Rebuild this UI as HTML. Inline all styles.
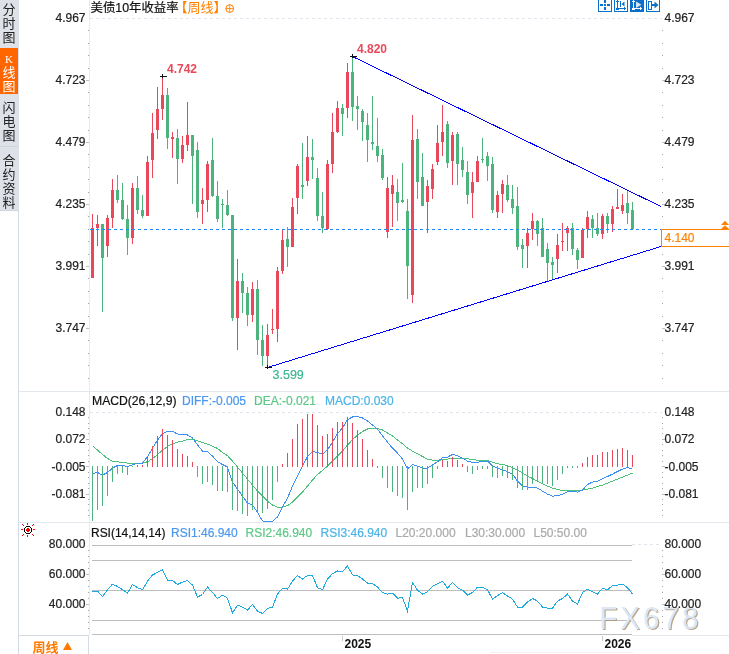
<!DOCTYPE html>
<html><head><meta charset="utf-8"><style>
html,body{margin:0;padding:0;background:#fff;width:729px;height:654px;overflow:hidden;position:relative}
</style></head><body>
<svg width="729" height="654" viewBox="0 0 729 654" style="position:absolute;left:0;top:0">
<g shape-rendering="crispEdges">
<!-- sidebar -->
<rect x="0" y="0" width="19" height="210" fill="#dfe1e8"/>
<rect x="0" y="210" width="19" height="1" fill="#cfd6df"/>
<rect x="0" y="48" width="18" height="46" fill="#ff6600"/>
<rect x="0" y="146" width="18" height="1" fill="#ccd4de"/>
<rect x="18" y="211" width="1" height="443" fill="#d3dae3"/>
<!-- separators -->
<rect x="19" y="391" width="710" height="1" fill="#e3e8ee"/>
<rect x="19" y="522" width="710" height="1" fill="#e3e8ee"/>
<!-- axis lines -->
<rect x="89" y="0" width="1" height="635" fill="#e6ebf1"/>
<rect x="19" y="635" width="70" height="1" fill="#d5dbe3"/>
<rect x="88" y="635" width="1" height="19" fill="#d5dbe3"/>
<rect x="92" y="634" width="540" height="1" fill="#bdbdbd"/>
<rect x="632" y="635" width="97" height="1" fill="#e3e8ee"/>
<rect x="490" y="652" width="143" height="1" fill="#eceff3"/>
<!-- dashed top lines -->
<line x1="90" y1="18.5" x2="662" y2="18.5" stroke="#dfe5ec" stroke-dasharray="3,3"/>
<line x1="90" y1="412.5" x2="662" y2="412.5" stroke="#dfe5ec" stroke-dasharray="3,3"/>
<line x1="632" y1="544.5" x2="662" y2="544.5" stroke="#dfe5ec" stroke-dasharray="3,3"/>
<rect x="88" y="30" width="1" height="1" fill="#9aa3b0"/><rect x="88" y="43" width="1" height="1" fill="#9aa3b0"/><rect x="88" y="55" width="1" height="1" fill="#9aa3b0"/><rect x="88" y="68" width="1" height="1" fill="#9aa3b0"/><rect x="88" y="80" width="1" height="1" fill="#9aa3b0"/><rect x="88" y="92" width="1" height="1" fill="#9aa3b0"/><rect x="88" y="105" width="1" height="1" fill="#9aa3b0"/><rect x="88" y="117" width="1" height="1" fill="#9aa3b0"/><rect x="88" y="130" width="1" height="1" fill="#9aa3b0"/><rect x="88" y="142" width="1" height="1" fill="#9aa3b0"/><rect x="88" y="154" width="1" height="1" fill="#9aa3b0"/><rect x="88" y="167" width="1" height="1" fill="#9aa3b0"/><rect x="88" y="179" width="1" height="1" fill="#9aa3b0"/><rect x="88" y="192" width="1" height="1" fill="#9aa3b0"/><rect x="88" y="204" width="1" height="1" fill="#9aa3b0"/><rect x="88" y="216" width="1" height="1" fill="#9aa3b0"/><rect x="88" y="229" width="1" height="1" fill="#9aa3b0"/><rect x="88" y="241" width="1" height="1" fill="#9aa3b0"/><rect x="88" y="254" width="1" height="1" fill="#9aa3b0"/><rect x="88" y="266" width="1" height="1" fill="#9aa3b0"/><rect x="88" y="278" width="1" height="1" fill="#9aa3b0"/><rect x="88" y="291" width="1" height="1" fill="#9aa3b0"/><rect x="88" y="303" width="1" height="1" fill="#9aa3b0"/><rect x="88" y="316" width="1" height="1" fill="#9aa3b0"/><rect x="88" y="328" width="1" height="1" fill="#9aa3b0"/><rect x="88" y="340" width="1" height="1" fill="#9aa3b0"/><rect x="88" y="353" width="1" height="1" fill="#9aa3b0"/><rect x="88" y="365" width="1" height="1" fill="#9aa3b0"/><rect x="88" y="378" width="1" height="1" fill="#9aa3b0"/><rect x="86" y="80" width="3" height="1" fill="#b8c0cc"/><rect x="86" y="142" width="3" height="1" fill="#b8c0cc"/><rect x="86" y="204" width="3" height="1" fill="#b8c0cc"/><rect x="86" y="266" width="3" height="1" fill="#b8c0cc"/><rect x="86" y="328" width="3" height="1" fill="#b8c0cc"/><rect x="662" y="30" width="1" height="1" fill="#9aa3b0"/><rect x="662" y="43" width="1" height="1" fill="#9aa3b0"/><rect x="662" y="55" width="1" height="1" fill="#9aa3b0"/><rect x="662" y="68" width="1" height="1" fill="#9aa3b0"/><rect x="662" y="80" width="1" height="1" fill="#9aa3b0"/><rect x="662" y="92" width="1" height="1" fill="#9aa3b0"/><rect x="662" y="105" width="1" height="1" fill="#9aa3b0"/><rect x="662" y="117" width="1" height="1" fill="#9aa3b0"/><rect x="662" y="130" width="1" height="1" fill="#9aa3b0"/><rect x="662" y="142" width="1" height="1" fill="#9aa3b0"/><rect x="662" y="154" width="1" height="1" fill="#9aa3b0"/><rect x="662" y="167" width="1" height="1" fill="#9aa3b0"/><rect x="662" y="179" width="1" height="1" fill="#9aa3b0"/><rect x="662" y="192" width="1" height="1" fill="#9aa3b0"/><rect x="662" y="204" width="1" height="1" fill="#9aa3b0"/><rect x="662" y="216" width="1" height="1" fill="#9aa3b0"/><rect x="662" y="229" width="1" height="1" fill="#9aa3b0"/><rect x="662" y="241" width="1" height="1" fill="#9aa3b0"/><rect x="662" y="254" width="1" height="1" fill="#9aa3b0"/><rect x="662" y="266" width="1" height="1" fill="#9aa3b0"/><rect x="662" y="278" width="1" height="1" fill="#9aa3b0"/><rect x="662" y="291" width="1" height="1" fill="#9aa3b0"/><rect x="662" y="303" width="1" height="1" fill="#9aa3b0"/><rect x="662" y="316" width="1" height="1" fill="#9aa3b0"/><rect x="662" y="328" width="1" height="1" fill="#9aa3b0"/><rect x="662" y="340" width="1" height="1" fill="#9aa3b0"/><rect x="662" y="353" width="1" height="1" fill="#9aa3b0"/><rect x="662" y="365" width="1" height="1" fill="#9aa3b0"/><rect x="662" y="378" width="1" height="1" fill="#9aa3b0"/><rect x="662" y="80" width="3" height="1" fill="#b8c0cc"/><rect x="662" y="142" width="3" height="1" fill="#b8c0cc"/><rect x="662" y="204" width="3" height="1" fill="#b8c0cc"/><rect x="662" y="266" width="3" height="1" fill="#b8c0cc"/><rect x="662" y="328" width="3" height="1" fill="#b8c0cc"/><rect x="88" y="417" width="1" height="1" fill="#9aa3b0"/><rect x="88" y="423" width="1" height="1" fill="#9aa3b0"/><rect x="88" y="428" width="1" height="1" fill="#9aa3b0"/><rect x="88" y="433" width="1" height="1" fill="#9aa3b0"/><rect x="88" y="439" width="1" height="1" fill="#9aa3b0"/><rect x="88" y="444" width="1" height="1" fill="#9aa3b0"/><rect x="88" y="450" width="1" height="1" fill="#9aa3b0"/><rect x="88" y="455" width="1" height="1" fill="#9aa3b0"/><rect x="88" y="461" width="1" height="1" fill="#9aa3b0"/><rect x="88" y="466" width="1" height="1" fill="#9aa3b0"/><rect x="88" y="472" width="1" height="1" fill="#9aa3b0"/><rect x="88" y="477" width="1" height="1" fill="#9aa3b0"/><rect x="88" y="483" width="1" height="1" fill="#9aa3b0"/><rect x="88" y="488" width="1" height="1" fill="#9aa3b0"/><rect x="88" y="494" width="1" height="1" fill="#9aa3b0"/><rect x="88" y="499" width="1" height="1" fill="#9aa3b0"/><rect x="88" y="504" width="1" height="1" fill="#9aa3b0"/><rect x="88" y="510" width="1" height="1" fill="#9aa3b0"/><rect x="88" y="515" width="1" height="1" fill="#9aa3b0"/><rect x="86" y="439" width="3" height="1" fill="#b8c0cc"/><rect x="86" y="466" width="3" height="1" fill="#b8c0cc"/><rect x="86" y="494" width="3" height="1" fill="#b8c0cc"/><rect x="662" y="417" width="1" height="1" fill="#9aa3b0"/><rect x="662" y="423" width="1" height="1" fill="#9aa3b0"/><rect x="662" y="428" width="1" height="1" fill="#9aa3b0"/><rect x="662" y="433" width="1" height="1" fill="#9aa3b0"/><rect x="662" y="439" width="1" height="1" fill="#9aa3b0"/><rect x="662" y="444" width="1" height="1" fill="#9aa3b0"/><rect x="662" y="450" width="1" height="1" fill="#9aa3b0"/><rect x="662" y="455" width="1" height="1" fill="#9aa3b0"/><rect x="662" y="461" width="1" height="1" fill="#9aa3b0"/><rect x="662" y="466" width="1" height="1" fill="#9aa3b0"/><rect x="662" y="472" width="1" height="1" fill="#9aa3b0"/><rect x="662" y="477" width="1" height="1" fill="#9aa3b0"/><rect x="662" y="483" width="1" height="1" fill="#9aa3b0"/><rect x="662" y="488" width="1" height="1" fill="#9aa3b0"/><rect x="662" y="494" width="1" height="1" fill="#9aa3b0"/><rect x="662" y="499" width="1" height="1" fill="#9aa3b0"/><rect x="662" y="504" width="1" height="1" fill="#9aa3b0"/><rect x="662" y="510" width="1" height="1" fill="#9aa3b0"/><rect x="662" y="515" width="1" height="1" fill="#9aa3b0"/><rect x="662" y="439" width="3" height="1" fill="#b8c0cc"/><rect x="662" y="466" width="3" height="1" fill="#b8c0cc"/><rect x="662" y="494" width="3" height="1" fill="#b8c0cc"/><rect x="88" y="550" width="1" height="1" fill="#9aa3b0"/><rect x="88" y="556" width="1" height="1" fill="#9aa3b0"/><rect x="88" y="562" width="1" height="1" fill="#9aa3b0"/><rect x="88" y="568" width="1" height="1" fill="#9aa3b0"/><rect x="88" y="574" width="1" height="1" fill="#9aa3b0"/><rect x="88" y="580" width="1" height="1" fill="#9aa3b0"/><rect x="88" y="586" width="1" height="1" fill="#9aa3b0"/><rect x="88" y="592" width="1" height="1" fill="#9aa3b0"/><rect x="88" y="598" width="1" height="1" fill="#9aa3b0"/><rect x="88" y="604" width="1" height="1" fill="#9aa3b0"/><rect x="88" y="610" width="1" height="1" fill="#9aa3b0"/><rect x="88" y="616" width="1" height="1" fill="#9aa3b0"/><rect x="88" y="622" width="1" height="1" fill="#9aa3b0"/><rect x="88" y="628" width="1" height="1" fill="#9aa3b0"/><rect x="86" y="574" width="3" height="1" fill="#b8c0cc"/><rect x="86" y="604" width="3" height="1" fill="#b8c0cc"/><rect x="662" y="550" width="1" height="1" fill="#9aa3b0"/><rect x="662" y="556" width="1" height="1" fill="#9aa3b0"/><rect x="662" y="562" width="1" height="1" fill="#9aa3b0"/><rect x="662" y="568" width="1" height="1" fill="#9aa3b0"/><rect x="662" y="574" width="1" height="1" fill="#9aa3b0"/><rect x="662" y="580" width="1" height="1" fill="#9aa3b0"/><rect x="662" y="586" width="1" height="1" fill="#9aa3b0"/><rect x="662" y="592" width="1" height="1" fill="#9aa3b0"/><rect x="662" y="598" width="1" height="1" fill="#9aa3b0"/><rect x="662" y="604" width="1" height="1" fill="#9aa3b0"/><rect x="662" y="610" width="1" height="1" fill="#9aa3b0"/><rect x="662" y="616" width="1" height="1" fill="#9aa3b0"/><rect x="662" y="622" width="1" height="1" fill="#9aa3b0"/><rect x="662" y="628" width="1" height="1" fill="#9aa3b0"/><rect x="662" y="574" width="3" height="1" fill="#b8c0cc"/><rect x="662" y="604" width="3" height="1" fill="#b8c0cc"/>
<!-- RSI level lines -->
<rect x="92" y="545" width="540" height="1" fill="#bebebe"/>
<rect x="92" y="560" width="540" height="1" fill="#bebebe"/>
<rect x="92" y="590" width="540" height="1" fill="#bebebe"/>
<rect x="92" y="620" width="540" height="1" fill="#bebebe"/>
<!-- x ticks -->
<rect x="342" y="636" width="1" height="5" fill="#c8c8c8"/>
<rect x="602" y="636" width="1" height="5" fill="#c8c8c8"/>
<rect x="92" y="214" width="1" height="64" fill="#e8485a"/><rect x="91" y="228" width="3" height="50" fill="#e8485a"/><rect x="97" y="215" width="1" height="31" fill="#e8485a"/><rect x="96" y="224" width="3" height="4" fill="#e8485a"/><rect x="102" y="224" width="1" height="88" fill="#4cb37c"/><rect x="101" y="224" width="3" height="34" fill="#4cb37c"/><rect x="107" y="215" width="1" height="42" fill="#e8485a"/><rect x="106" y="218" width="3" height="28" fill="#e8485a"/><rect x="112" y="179" width="1" height="49" fill="#e8485a"/><rect x="111" y="190" width="3" height="28" fill="#e8485a"/><rect x="117" y="175" width="1" height="28" fill="#4cb37c"/><rect x="116" y="190" width="3" height="10" fill="#4cb37c"/><rect x="122" y="183" width="1" height="37" fill="#4cb37c"/><rect x="121" y="200" width="3" height="19" fill="#4cb37c"/><rect x="127" y="205" width="1" height="50" fill="#4cb37c"/><rect x="126" y="219" width="3" height="19" fill="#4cb37c"/><rect x="132" y="183" width="1" height="61" fill="#e8485a"/><rect x="131" y="188" width="3" height="50" fill="#e8485a"/><rect x="137" y="176" width="1" height="38" fill="#4cb37c"/><rect x="136" y="188" width="3" height="22" fill="#4cb37c"/><rect x="142" y="195" width="1" height="23" fill="#4cb37c"/><rect x="141" y="210" width="3" height="6" fill="#4cb37c"/><rect x="147" y="156" width="1" height="60" fill="#e8485a"/><rect x="146" y="162" width="3" height="54" fill="#e8485a"/><rect x="152" y="113" width="1" height="65" fill="#e8485a"/><rect x="151" y="133" width="3" height="27" fill="#e8485a"/><rect x="157" y="87" width="1" height="52" fill="#e8485a"/><rect x="156" y="109" width="3" height="21" fill="#e8485a"/><rect x="162" y="76" width="1" height="44" fill="#e8485a"/><rect x="161" y="95" width="3" height="14" fill="#e8485a"/><rect x="167" y="88" width="1" height="61" fill="#4cb37c"/><rect x="166" y="95" width="3" height="43" fill="#4cb37c"/><rect x="172" y="132" width="1" height="26" fill="#e8485a"/><rect x="171" y="137" width="3" height="2" fill="#e8485a"/><rect x="177" y="129" width="1" height="55" fill="#4cb37c"/><rect x="176" y="138" width="3" height="21" fill="#4cb37c"/><rect x="182" y="136" width="1" height="27" fill="#e8485a"/><rect x="181" y="145" width="3" height="14" fill="#e8485a"/><rect x="187" y="102" width="1" height="49" fill="#e8485a"/><rect x="186" y="135" width="3" height="10" fill="#e8485a"/><rect x="192" y="135" width="1" height="69" fill="#4cb37c"/><rect x="191" y="135" width="3" height="21" fill="#4cb37c"/><rect x="197" y="142" width="1" height="76" fill="#4cb37c"/><rect x="196" y="150" width="3" height="62" fill="#4cb37c"/><rect x="202" y="188" width="1" height="36" fill="#e8485a"/><rect x="201" y="200" width="3" height="4" fill="#e8485a"/><rect x="207" y="161" width="1" height="51" fill="#e8485a"/><rect x="206" y="164" width="3" height="36" fill="#e8485a"/><rect x="212" y="138" width="1" height="59" fill="#4cb37c"/><rect x="211" y="160" width="3" height="36" fill="#4cb37c"/><rect x="217" y="181" width="1" height="41" fill="#4cb37c"/><rect x="216" y="196" width="3" height="23" fill="#4cb37c"/><rect x="222" y="199" width="1" height="29" fill="#4cb37c"/><rect x="221" y="204" width="3" height="1" fill="#4cb37c"/><rect x="227" y="190" width="1" height="26" fill="#4cb37c"/><rect x="226" y="205" width="3" height="10" fill="#4cb37c"/><rect x="232" y="215" width="1" height="106" fill="#4cb37c"/><rect x="231" y="215" width="3" height="103" fill="#4cb37c"/><rect x="237" y="259" width="1" height="91" fill="#e8485a"/><rect x="236" y="281" width="3" height="37" fill="#e8485a"/><rect x="242" y="273" width="1" height="40" fill="#4cb37c"/><rect x="241" y="281" width="3" height="12" fill="#4cb37c"/><rect x="247" y="287" width="1" height="39" fill="#4cb37c"/><rect x="246" y="293" width="3" height="22" fill="#4cb37c"/><rect x="252" y="282" width="1" height="40" fill="#e8485a"/><rect x="251" y="289" width="3" height="26" fill="#e8485a"/><rect x="257" y="280" width="1" height="75" fill="#4cb37c"/><rect x="256" y="289" width="3" height="51" fill="#4cb37c"/><rect x="262" y="325" width="1" height="41" fill="#4cb37c"/><rect x="261" y="340" width="3" height="16" fill="#4cb37c"/><rect x="267" y="324" width="1" height="43" fill="#e8485a"/><rect x="266" y="335" width="3" height="21" fill="#e8485a"/><rect x="272" y="309" width="1" height="25" fill="#e8485a"/><rect x="271" y="329" width="3" height="1" fill="#e8485a"/><rect x="277" y="267" width="1" height="75" fill="#e8485a"/><rect x="276" y="271" width="3" height="58" fill="#e8485a"/><rect x="282" y="229" width="1" height="45" fill="#e8485a"/><rect x="281" y="240" width="3" height="31" fill="#e8485a"/><rect x="287" y="227" width="1" height="40" fill="#4cb37c"/><rect x="286" y="239" width="3" height="8" fill="#4cb37c"/><rect x="292" y="198" width="1" height="49" fill="#e8485a"/><rect x="291" y="207" width="3" height="40" fill="#e8485a"/><rect x="297" y="164" width="1" height="50" fill="#e8485a"/><rect x="296" y="166" width="3" height="32" fill="#e8485a"/><rect x="302" y="143" width="1" height="56" fill="#4cb37c"/><rect x="301" y="185" width="3" height="2" fill="#4cb37c"/><rect x="307" y="136" width="1" height="50" fill="#e8485a"/><rect x="306" y="157" width="3" height="24" fill="#e8485a"/><rect x="312" y="139" width="1" height="40" fill="#4cb37c"/><rect x="311" y="157" width="3" height="3" fill="#4cb37c"/><rect x="317" y="168" width="1" height="53" fill="#4cb37c"/><rect x="316" y="178" width="3" height="38" fill="#4cb37c"/><rect x="322" y="192" width="1" height="41" fill="#4cb37c"/><rect x="321" y="216" width="3" height="12" fill="#4cb37c"/><rect x="327" y="160" width="1" height="70" fill="#e8485a"/><rect x="326" y="164" width="3" height="65" fill="#e8485a"/><rect x="332" y="113" width="1" height="60" fill="#e8485a"/><rect x="331" y="132" width="3" height="32" fill="#e8485a"/><rect x="337" y="101" width="1" height="32" fill="#e8485a"/><rect x="336" y="108" width="3" height="24" fill="#e8485a"/><rect x="342" y="104" width="1" height="32" fill="#4cb37c"/><rect x="341" y="108" width="3" height="6" fill="#4cb37c"/><rect x="347" y="63" width="1" height="55" fill="#e8485a"/><rect x="346" y="72" width="3" height="36" fill="#e8485a"/><rect x="352" y="56" width="1" height="65" fill="#4cb37c"/><rect x="351" y="72" width="3" height="35" fill="#4cb37c"/><rect x="357" y="96" width="1" height="34" fill="#4cb37c"/><rect x="356" y="106" width="3" height="3" fill="#4cb37c"/><rect x="362" y="109" width="1" height="32" fill="#4cb37c"/><rect x="361" y="111" width="3" height="11" fill="#4cb37c"/><rect x="367" y="113" width="1" height="49" fill="#4cb37c"/><rect x="366" y="125" width="3" height="15" fill="#4cb37c"/><rect x="372" y="96" width="1" height="54" fill="#4cb37c"/><rect x="371" y="142" width="3" height="2" fill="#4cb37c"/><rect x="377" y="118" width="1" height="44" fill="#4cb37c"/><rect x="376" y="146" width="3" height="10" fill="#4cb37c"/><rect x="382" y="149" width="1" height="31" fill="#4cb37c"/><rect x="381" y="155" width="3" height="23" fill="#4cb37c"/><rect x="387" y="177" width="1" height="61" fill="#e8485a"/><rect x="386" y="188" width="3" height="44" fill="#e8485a"/><rect x="392" y="175" width="1" height="52" fill="#e8485a"/><rect x="391" y="185" width="3" height="9" fill="#e8485a"/><rect x="397" y="179" width="1" height="42" fill="#4cb37c"/><rect x="396" y="192" width="3" height="11" fill="#4cb37c"/><rect x="402" y="163" width="1" height="40" fill="#4cb37c"/><rect x="401" y="200" width="3" height="2" fill="#4cb37c"/><rect x="407" y="199" width="1" height="100" fill="#4cb37c"/><rect x="406" y="211" width="3" height="55" fill="#4cb37c"/><rect x="412" y="115" width="1" height="188" fill="#e8485a"/><rect x="411" y="140" width="3" height="155" fill="#e8485a"/><rect x="417" y="129" width="1" height="70" fill="#4cb37c"/><rect x="416" y="139" width="3" height="43" fill="#4cb37c"/><rect x="422" y="153" width="1" height="53" fill="#4cb37c"/><rect x="421" y="177" width="3" height="29" fill="#4cb37c"/><rect x="427" y="180" width="1" height="53" fill="#e8485a"/><rect x="426" y="186" width="3" height="16" fill="#e8485a"/><rect x="432" y="164" width="1" height="35" fill="#e8485a"/><rect x="431" y="169" width="3" height="20" fill="#e8485a"/><rect x="437" y="125" width="1" height="40" fill="#e8485a"/><rect x="436" y="143" width="3" height="19" fill="#e8485a"/><rect x="442" y="105" width="1" height="51" fill="#e8485a"/><rect x="441" y="132" width="3" height="10" fill="#e8485a"/><rect x="447" y="121" width="1" height="47" fill="#4cb37c"/><rect x="446" y="124" width="3" height="39" fill="#4cb37c"/><rect x="452" y="132" width="1" height="53" fill="#e8485a"/><rect x="451" y="135" width="3" height="26" fill="#e8485a"/><rect x="457" y="132" width="1" height="53" fill="#4cb37c"/><rect x="456" y="134" width="3" height="30" fill="#4cb37c"/><rect x="462" y="147" width="1" height="30" fill="#4cb37c"/><rect x="461" y="160" width="3" height="10" fill="#4cb37c"/><rect x="467" y="161" width="1" height="43" fill="#4cb37c"/><rect x="466" y="172" width="3" height="23" fill="#4cb37c"/><rect x="472" y="172" width="1" height="46" fill="#e8485a"/><rect x="471" y="182" width="3" height="11" fill="#e8485a"/><rect x="477" y="156" width="1" height="26" fill="#e8485a"/><rect x="476" y="161" width="3" height="21" fill="#e8485a"/><rect x="482" y="138" width="1" height="25" fill="#4cb37c"/><rect x="481" y="159" width="3" height="1" fill="#4cb37c"/><rect x="487" y="152" width="1" height="29" fill="#4cb37c"/><rect x="486" y="156" width="3" height="10" fill="#4cb37c"/><rect x="492" y="157" width="1" height="56" fill="#4cb37c"/><rect x="491" y="164" width="3" height="46" fill="#4cb37c"/><rect x="497" y="191" width="1" height="27" fill="#e8485a"/><rect x="496" y="195" width="3" height="17" fill="#e8485a"/><rect x="502" y="180" width="1" height="33" fill="#e8485a"/><rect x="501" y="184" width="3" height="10" fill="#e8485a"/><rect x="507" y="175" width="1" height="27" fill="#4cb37c"/><rect x="506" y="185" width="3" height="15" fill="#4cb37c"/><rect x="512" y="185" width="1" height="29" fill="#4cb37c"/><rect x="511" y="199" width="3" height="9" fill="#4cb37c"/><rect x="517" y="187" width="1" height="63" fill="#4cb37c"/><rect x="516" y="206" width="3" height="41" fill="#4cb37c"/><rect x="522" y="239" width="1" height="29" fill="#4cb37c"/><rect x="521" y="245" width="3" height="4" fill="#4cb37c"/><rect x="527" y="228" width="1" height="40" fill="#e8485a"/><rect x="526" y="233" width="3" height="13" fill="#e8485a"/><rect x="532" y="213" width="1" height="27" fill="#e8485a"/><rect x="531" y="221" width="3" height="8" fill="#e8485a"/><rect x="537" y="220" width="1" height="26" fill="#4cb37c"/><rect x="536" y="221" width="3" height="13" fill="#4cb37c"/><rect x="542" y="218" width="1" height="39" fill="#4cb37c"/><rect x="541" y="228" width="3" height="29" fill="#4cb37c"/><rect x="547" y="243" width="1" height="38" fill="#4cb37c"/><rect x="546" y="249" width="3" height="14" fill="#4cb37c"/><rect x="552" y="257" width="1" height="23" fill="#4cb37c"/><rect x="551" y="262" width="3" height="3" fill="#4cb37c"/><rect x="557" y="234" width="1" height="39" fill="#e8485a"/><rect x="556" y="245" width="3" height="14" fill="#e8485a"/><rect x="562" y="223" width="1" height="28" fill="#e8485a"/><rect x="561" y="241" width="3" height="1" fill="#e8485a"/><rect x="567" y="226" width="1" height="25" fill="#e8485a"/><rect x="566" y="228" width="3" height="5" fill="#e8485a"/><rect x="572" y="223" width="1" height="32" fill="#4cb37c"/><rect x="571" y="228" width="3" height="21" fill="#4cb37c"/><rect x="577" y="248" width="1" height="21" fill="#4cb37c"/><rect x="576" y="250" width="3" height="10" fill="#4cb37c"/><rect x="582" y="228" width="1" height="30" fill="#e8485a"/><rect x="581" y="230" width="3" height="28" fill="#e8485a"/><rect x="587" y="211" width="1" height="27" fill="#e8485a"/><rect x="586" y="217" width="3" height="12" fill="#e8485a"/><rect x="592" y="215" width="1" height="23" fill="#4cb37c"/><rect x="591" y="219" width="3" height="9" fill="#4cb37c"/><rect x="597" y="213" width="1" height="23" fill="#4cb37c"/><rect x="596" y="228" width="3" height="6" fill="#4cb37c"/><rect x="602" y="214" width="1" height="25" fill="#e8485a"/><rect x="601" y="216" width="3" height="18" fill="#e8485a"/><rect x="607" y="213" width="1" height="20" fill="#4cb37c"/><rect x="606" y="216" width="3" height="8" fill="#4cb37c"/><rect x="612" y="206" width="1" height="26" fill="#e8485a"/><rect x="611" y="209" width="3" height="15" fill="#e8485a"/><rect x="617" y="189" width="1" height="20" fill="#e8485a"/><rect x="616" y="207" width="3" height="2" fill="#e8485a"/><rect x="622" y="194" width="1" height="20" fill="#e8485a"/><rect x="621" y="205" width="3" height="6" fill="#e8485a"/><rect x="627" y="190" width="1" height="34" fill="#4cb37c"/><rect x="626" y="203" width="3" height="10" fill="#4cb37c"/><rect x="632" y="202" width="1" height="27" fill="#4cb37c"/><rect x="631" y="210" width="3" height="19" fill="#4cb37c"/>
</g>
<!-- current price dashed -->
<line x1="90" y1="229.5" x2="661" y2="229.5" stroke="#1a8cff" stroke-dasharray="3,3" stroke-width="1.2"/>
<!-- trend lines -->
<line x1="352.5" y1="56.5" x2="661" y2="206.5" stroke="#0000ff" stroke-width="1" shape-rendering="crispEdges"/>
<line x1="267.5" y1="367.5" x2="661" y2="246.5" stroke="#0000ff" stroke-width="1" shape-rendering="crispEdges"/>
<!-- markers -->
<g shape-rendering="crispEdges" fill="#111">
<rect x="160" y="76" width="7" height="1"/><rect x="162" y="74" width="1" height="4"/>
<rect x="350" y="56" width="7" height="1"/><rect x="352" y="54" width="1" height="4"/>
<rect x="265" y="367" width="7" height="1"/><rect x="267" y="365" width="1" height="4"/>
</g>
<!-- MACD lines -->
<svg x="90" y="392" width="572" height="130" viewBox="90 392 572 130" overflow="hidden">
<polyline points="92.5,445.7 97.5,450.1 102.5,454.5 107.5,458.5 112.5,461.1 117.5,461.7 122.5,462.5 127.5,463.1 132.5,463.3 137.5,463.3 142.5,463.3 147.5,461.7 152.5,458.7 157.5,454.5 162.5,450.1 167.5,446.5 172.5,443.7 177.5,442.1 182.5,441.1 187.5,439.7 192.5,439.5 197.5,440.7 202.5,442.7 207.5,444.1 212.5,446.1 217.5,448.5 222.5,452.5 227.5,455.7 232.5,461.1 237.5,467.1 242.5,473.1 247.5,479.1 252.5,485.1 257.5,491.1 262.5,496.1 267.5,501.1 272.5,505.1 277.5,507.1 282.5,507.1 287.5,505.7 292.5,502.1 297.5,497.1 302.5,492.1 307.5,486.1 312.5,480.1 317.5,474.5 322.5,470.5 327.5,466.1 332.5,461.1 337.5,456.1 342.5,451.1 347.5,445.1 352.5,439.7 357.5,435.0 362.5,431.6 367.5,429.0 372.5,428.4 377.5,428.4 382.5,430.0 387.5,433.0 392.5,436.0 397.5,440.1 402.5,443.7 407.5,448.1 412.5,451.1 417.5,453.7 422.5,456.5 427.5,459.1 432.5,460.1 437.5,460.5 442.5,459.7 447.5,459.1 452.5,458.1 457.5,458.1 462.5,458.1 467.5,458.7 472.5,459.7 477.5,460.1 482.5,460.5 487.5,460.5 492.5,462.1 497.5,463.7 502.5,464.5 507.5,465.7 512.5,467.7 517.5,470.1 522.5,473.1 527.5,476.1 532.5,478.5 537.5,481.1 542.5,483.7 547.5,486.1 552.5,488.1 557.5,489.5 562.5,490.5 567.5,490.5 572.5,490.5 577.5,490.5 582.5,490.1 587.5,489.1 592.5,488.1 597.5,486.5 602.5,485.1 607.5,483.1 612.5,481.1 617.5,479.1 622.5,477.1 627.5,475.1 632.5,473.1" fill="none" stroke="#4cc17e" stroke-width="1.0" shape-rendering="crispEdges"/>
<polyline points="92.5,473.7 97.5,472.5 102.5,475.1 107.5,472.5 112.5,468.1 117.5,465.5 122.5,465.5 127.5,466.7 132.5,464.7 137.5,463.5 142.5,463.3 147.5,456.7 152.5,448.1 157.5,440.1 162.5,433.6 167.5,431.4 172.5,431.4 177.5,434.0 182.5,434.4 187.5,435.0 192.5,438.0 197.5,445.0 202.5,451.1 207.5,451.7 212.5,456.1 217.5,461.7 222.5,464.5 227.5,467.1 232.5,482.1 237.5,489.1 242.5,496.1 247.5,503.1 252.5,505.1 257.5,512.2 262.5,521.0 267.5,521.2 272.5,521.2 277.5,517.0 282.5,507.0 287.5,498.1 292.5,486.1 297.5,476.1 302.5,466.1 307.5,456.7 312.5,451.5 317.5,452.5 322.5,454.1 327.5,449.7 332.5,442.1 337.5,433.6 342.5,428.0 347.5,419.6 352.5,417.0 357.5,416.4 362.5,418.0 367.5,421.0 372.5,425.0 377.5,429.0 382.5,436.0 387.5,442.1 392.5,448.1 397.5,453.1 402.5,459.1 407.5,469.1 412.5,464.5 417.5,466.1 422.5,468.1 427.5,468.1 432.5,465.1 437.5,461.7 442.5,457.7 447.5,457.1 452.5,454.5 457.5,455.7 462.5,458.1 467.5,461.1 472.5,462.5 477.5,462.5 482.5,461.1 487.5,461.1 492.5,466.1 497.5,468.1 502.5,469.7 507.5,471.7 512.5,474.1 517.5,481.1 522.5,486.1 527.5,487.1 532.5,487.1 537.5,488.1 542.5,491.1 547.5,494.1 552.5,496.1 557.5,495.7 562.5,494.1 567.5,491.7 572.5,491.1 577.5,492.1 582.5,490.1 587.5,484.5 592.5,482.1 597.5,481.1 602.5,478.7 607.5,476.5 612.5,474.1 617.5,471.5 622.5,469.1 627.5,467.7 632.5,468.5" fill="none" stroke="#3d8ff0" stroke-width="1.0" shape-rendering="crispEdges"/>
</svg>
<g shape-rendering="crispEdges"><rect x="92" y="466" width="1" height="55" fill="#4cb37c"/><rect x="97" y="466" width="1" height="44" fill="#4cb37c"/><rect x="102" y="466" width="1" height="40" fill="#4cb37c"/><rect x="107" y="466" width="1" height="30" fill="#4cb37c"/><rect x="112" y="466" width="1" height="16" fill="#4cb37c"/><rect x="117" y="466" width="1" height="8" fill="#4cb37c"/><rect x="122" y="466" width="1" height="7" fill="#4cb37c"/><rect x="127" y="466" width="1" height="9" fill="#4cb37c"/><rect x="132" y="466" width="1" height="1" fill="#4cb37c"/><rect x="137" y="465" width="1" height="2" fill="#e8485a"/><rect x="142" y="465" width="1" height="2" fill="#e8485a"/><rect x="147" y="457" width="1" height="10" fill="#e8485a"/><rect x="152" y="446" width="1" height="21" fill="#e8485a"/><rect x="157" y="436" width="1" height="31" fill="#e8485a"/><rect x="162" y="429" width="1" height="38" fill="#e8485a"/><rect x="167" y="435" width="1" height="32" fill="#e8485a"/><rect x="172" y="440" width="1" height="27" fill="#e8485a"/><rect x="177" y="449" width="1" height="18" fill="#e8485a"/><rect x="182" y="454" width="1" height="13" fill="#e8485a"/><rect x="187" y="456" width="1" height="11" fill="#e8485a"/><rect x="192" y="462" width="1" height="5" fill="#e8485a"/><rect x="197" y="466" width="1" height="11" fill="#4cb37c"/><rect x="202" y="466" width="1" height="18" fill="#4cb37c"/><rect x="207" y="466" width="1" height="16" fill="#4cb37c"/><rect x="212" y="466" width="1" height="19" fill="#4cb37c"/><rect x="217" y="466" width="1" height="25" fill="#4cb37c"/><rect x="222" y="466" width="1" height="25" fill="#4cb37c"/><rect x="227" y="466" width="1" height="26" fill="#4cb37c"/><rect x="232" y="466" width="1" height="44" fill="#4cb37c"/><rect x="237" y="466" width="1" height="45" fill="#4cb37c"/><rect x="242" y="466" width="1" height="48" fill="#4cb37c"/><rect x="247" y="466" width="1" height="50" fill="#4cb37c"/><rect x="252" y="466" width="1" height="44" fill="#4cb37c"/><rect x="257" y="466" width="1" height="47" fill="#4cb37c"/><rect x="262" y="466" width="1" height="47" fill="#4cb37c"/><rect x="267" y="466" width="1" height="43" fill="#4cb37c"/><rect x="272" y="466" width="1" height="34" fill="#4cb37c"/><rect x="277" y="466" width="1" height="16" fill="#4cb37c"/><rect x="282" y="464" width="1" height="3" fill="#e8485a"/><rect x="287" y="453" width="1" height="14" fill="#e8485a"/><rect x="292" y="439" width="1" height="28" fill="#e8485a"/><rect x="297" y="424" width="1" height="43" fill="#e8485a"/><rect x="302" y="419" width="1" height="48" fill="#e8485a"/><rect x="307" y="414" width="1" height="53" fill="#e8485a"/><rect x="312" y="414" width="1" height="53" fill="#e8485a"/><rect x="317" y="425" width="1" height="42" fill="#e8485a"/><rect x="322" y="436" width="1" height="31" fill="#e8485a"/><rect x="327" y="434" width="1" height="33" fill="#e8485a"/><rect x="332" y="428" width="1" height="39" fill="#e8485a"/><rect x="337" y="422" width="1" height="45" fill="#e8485a"/><rect x="342" y="422" width="1" height="45" fill="#e8485a"/><rect x="347" y="417" width="1" height="50" fill="#e8485a"/><rect x="352" y="423" width="1" height="44" fill="#e8485a"/><rect x="357" y="430" width="1" height="37" fill="#e8485a"/><rect x="362" y="439" width="1" height="28" fill="#e8485a"/><rect x="367" y="450" width="1" height="17" fill="#e8485a"/><rect x="372" y="459" width="1" height="8" fill="#e8485a"/><rect x="377" y="466" width="1" height="2" fill="#4cb37c"/><rect x="382" y="466" width="1" height="12" fill="#4cb37c"/><rect x="387" y="466" width="1" height="22" fill="#4cb37c"/><rect x="392" y="466" width="1" height="26" fill="#4cb37c"/><rect x="397" y="466" width="1" height="30" fill="#4cb37c"/><rect x="402" y="466" width="1" height="32" fill="#4cb37c"/><rect x="407" y="466" width="1" height="44" fill="#4cb37c"/><rect x="412" y="466" width="1" height="26" fill="#4cb37c"/><rect x="417" y="466" width="1" height="22" fill="#4cb37c"/><rect x="422" y="466" width="1" height="22" fill="#4cb37c"/><rect x="427" y="466" width="1" height="18" fill="#4cb37c"/><rect x="432" y="466" width="1" height="12" fill="#4cb37c"/><rect x="437" y="466" width="1" height="3" fill="#4cb37c"/><rect x="442" y="460" width="1" height="7" fill="#e8485a"/><rect x="447" y="461" width="1" height="6" fill="#e8485a"/><rect x="452" y="457" width="1" height="10" fill="#e8485a"/><rect x="457" y="460" width="1" height="7" fill="#e8485a"/><rect x="462" y="464" width="1" height="3" fill="#e8485a"/><rect x="467" y="466" width="1" height="6" fill="#4cb37c"/><rect x="472" y="466" width="1" height="8" fill="#4cb37c"/><rect x="477" y="466" width="1" height="4" fill="#4cb37c"/><rect x="482" y="466" width="1" height="3" fill="#4cb37c"/><rect x="487" y="466" width="1" height="3" fill="#4cb37c"/><rect x="492" y="466" width="1" height="11" fill="#4cb37c"/><rect x="497" y="466" width="1" height="12" fill="#4cb37c"/><rect x="502" y="466" width="1" height="10" fill="#4cb37c"/><rect x="507" y="466" width="1" height="12" fill="#4cb37c"/><rect x="512" y="466" width="1" height="14" fill="#4cb37c"/><rect x="517" y="466" width="1" height="22" fill="#4cb37c"/><rect x="522" y="466" width="1" height="24" fill="#4cb37c"/><rect x="527" y="466" width="1" height="24" fill="#4cb37c"/><rect x="532" y="466" width="1" height="18" fill="#4cb37c"/><rect x="537" y="466" width="1" height="16" fill="#4cb37c"/><rect x="542" y="466" width="1" height="18" fill="#4cb37c"/><rect x="547" y="466" width="1" height="18" fill="#4cb37c"/><rect x="552" y="466" width="1" height="20" fill="#4cb37c"/><rect x="557" y="466" width="1" height="14" fill="#4cb37c"/><rect x="562" y="466" width="1" height="8" fill="#4cb37c"/><rect x="567" y="466" width="1" height="2" fill="#4cb37c"/><rect x="572" y="466" width="1" height="2" fill="#4cb37c"/><rect x="577" y="466" width="1" height="2" fill="#4cb37c"/><rect x="582" y="463" width="1" height="4" fill="#e8485a"/><rect x="587" y="457" width="1" height="10" fill="#e8485a"/><rect x="592" y="455" width="1" height="12" fill="#e8485a"/><rect x="597" y="455" width="1" height="12" fill="#e8485a"/><rect x="602" y="452" width="1" height="15" fill="#e8485a"/><rect x="607" y="452" width="1" height="15" fill="#e8485a"/><rect x="612" y="450" width="1" height="17" fill="#e8485a"/><rect x="617" y="449" width="1" height="18" fill="#e8485a"/><rect x="622" y="448" width="1" height="19" fill="#e8485a"/><rect x="627" y="450" width="1" height="17" fill="#e8485a"/><rect x="632" y="455" width="1" height="12" fill="#e8485a"/></g>
<polyline points="92.5,591.5 97.5,591.1 102.5,596.5 107.5,589.7 112.5,584.1 117.5,586.5 122.5,589.7 127.5,593.1 132.5,584.5 137.5,587.7 142.5,589.7 147.5,581.1 152.5,575.0 157.5,572.4 162.5,570.0 167.5,580.1 172.5,580.5 177.5,584.5 182.5,582.1 187.5,580.5 192.5,585.1 197.5,597.1 202.5,594.5 207.5,587.1 212.5,592.5 217.5,598.5 222.5,595.1 227.5,598.1 232.5,613.0 237.5,605.1 242.5,607.1 247.5,610.1 252.5,604.5 257.5,611.1 262.5,613.5 267.5,608.5 272.5,607.1 277.5,594.1 282.5,588.1 287.5,589.1 292.5,581.1 297.5,575.4 302.5,579.1 307.5,575.4 312.5,575.4 317.5,587.7 322.5,589.7 327.5,579.1 332.5,573.6 337.5,571.0 342.5,571.6 347.5,566.0 352.5,575.0 357.5,575.6 362.5,579.1 367.5,583.1 372.5,583.7 377.5,587.1 382.5,592.5 387.5,594.1 392.5,593.1 397.5,598.1 402.5,597.7 407.5,611.1 412.5,582.5 417.5,590.1 422.5,594.1 427.5,591.7 432.5,586.5 437.5,583.7 442.5,581.1 447.5,588.1 452.5,582.5 457.5,587.7 462.5,590.1 467.5,595.1 472.5,592.5 477.5,587.1 482.5,587.1 487.5,589.7 492.5,599.1 497.5,595.7 502.5,592.5 507.5,596.1 512.5,599.1 517.5,607.1 522.5,607.1 527.5,602.1 532.5,598.5 537.5,601.1 542.5,607.1 547.5,608.1 552.5,608.1 557.5,601.1 562.5,598.5 567.5,594.1 572.5,601.1 577.5,604.1 582.5,592.5 587.5,589.1 592.5,591.7 597.5,594.1 602.5,588.1 607.5,589.7 612.5,585.7 617.5,585.1 622.5,584.1 627.5,587.7 632.5,594.1" fill="none" stroke="#1eaae0" stroke-width="1.0" shape-rendering="crispEdges"/>
<!-- watermark -->
<g transform="translate(599.3,0) scale(0.95,1)">
<text x="1.2" y="630" font-size="31" fill="#b09878" text-anchor="start" font-weight="normal" font-family='"Liberation Sans", Arial, sans-serif' letter-spacing="3.25" opacity="0.85">FX678</text>
<text x="0" y="629" font-size="31" fill="#dce8f6" text-anchor="start" font-weight="normal" font-family='"Liberation Sans", Arial, sans-serif' letter-spacing="3.25">FX678</text>
</g>
<!-- price box -->
<rect x="661.5" y="229.5" width="70" height="17" fill="#fff" stroke="#ff8000" stroke-width="1"/>
<text x="664.5" y="242" font-size="12" fill="#ff8000" stroke="#ff8000" stroke-width="0.2" text-anchor="start" font-weight="normal" font-family='"Liberation Sans", Arial, sans-serif' >4.140</text>
<path d="M725 220.8 L729 225 L721 225 Z M725 225.3 L729.5 229.5 L720.5 229.5 Z" fill="#ff8000"/>
<text x="85.5" y="22" font-size="12" fill="#222" stroke="#222" stroke-width="0.2" text-anchor="end" font-weight="normal" font-family='"Liberation Sans", Arial, sans-serif' >4.967</text><text x="664.5" y="22" font-size="12" fill="#222" stroke="#222" stroke-width="0.2" text-anchor="start" font-weight="normal" font-family='"Liberation Sans", Arial, sans-serif' >4.967</text><text x="85.5" y="84" font-size="12" fill="#222" stroke="#222" stroke-width="0.2" text-anchor="end" font-weight="normal" font-family='"Liberation Sans", Arial, sans-serif' >4.723</text><text x="664.5" y="84" font-size="12" fill="#222" stroke="#222" stroke-width="0.2" text-anchor="start" font-weight="normal" font-family='"Liberation Sans", Arial, sans-serif' >4.723</text><text x="85.5" y="146" font-size="12" fill="#222" stroke="#222" stroke-width="0.2" text-anchor="end" font-weight="normal" font-family='"Liberation Sans", Arial, sans-serif' >4.479</text><text x="664.5" y="146" font-size="12" fill="#222" stroke="#222" stroke-width="0.2" text-anchor="start" font-weight="normal" font-family='"Liberation Sans", Arial, sans-serif' >4.479</text><text x="85.5" y="208" font-size="12" fill="#222" stroke="#222" stroke-width="0.2" text-anchor="end" font-weight="normal" font-family='"Liberation Sans", Arial, sans-serif' >4.235</text><text x="664.5" y="208" font-size="12" fill="#222" stroke="#222" stroke-width="0.2" text-anchor="start" font-weight="normal" font-family='"Liberation Sans", Arial, sans-serif' >4.235</text><text x="85.5" y="270" font-size="12" fill="#222" stroke="#222" stroke-width="0.2" text-anchor="end" font-weight="normal" font-family='"Liberation Sans", Arial, sans-serif' >3.991</text><text x="664.5" y="270" font-size="12" fill="#222" stroke="#222" stroke-width="0.2" text-anchor="start" font-weight="normal" font-family='"Liberation Sans", Arial, sans-serif' >3.991</text><text x="85.5" y="332" font-size="12" fill="#222" stroke="#222" stroke-width="0.2" text-anchor="end" font-weight="normal" font-family='"Liberation Sans", Arial, sans-serif' >3.747</text><text x="664.5" y="332" font-size="12" fill="#222" stroke="#222" stroke-width="0.2" text-anchor="start" font-weight="normal" font-family='"Liberation Sans", Arial, sans-serif' >3.747</text><text x="85.5" y="416" font-size="12" fill="#222" stroke="#222" stroke-width="0.2" text-anchor="end" font-weight="normal" font-family='"Liberation Sans", Arial, sans-serif' >0.148</text><text x="664.5" y="416" font-size="12" fill="#222" stroke="#222" stroke-width="0.2" text-anchor="start" font-weight="normal" font-family='"Liberation Sans", Arial, sans-serif' >0.148</text><text x="85.5" y="443" font-size="12" fill="#222" stroke="#222" stroke-width="0.2" text-anchor="end" font-weight="normal" font-family='"Liberation Sans", Arial, sans-serif' >0.072</text><text x="664.5" y="443" font-size="12" fill="#222" stroke="#222" stroke-width="0.2" text-anchor="start" font-weight="normal" font-family='"Liberation Sans", Arial, sans-serif' >0.072</text><text x="85.5" y="471" font-size="12" fill="#222" stroke="#222" stroke-width="0.2" text-anchor="end" font-weight="normal" font-family='"Liberation Sans", Arial, sans-serif' >-0.005</text><text x="664.5" y="471" font-size="12" fill="#222" stroke="#222" stroke-width="0.2" text-anchor="start" font-weight="normal" font-family='"Liberation Sans", Arial, sans-serif' >-0.005</text><text x="85.5" y="498" font-size="12" fill="#222" stroke="#222" stroke-width="0.2" text-anchor="end" font-weight="normal" font-family='"Liberation Sans", Arial, sans-serif' >-0.081</text><text x="664.5" y="498" font-size="12" fill="#222" stroke="#222" stroke-width="0.2" text-anchor="start" font-weight="normal" font-family='"Liberation Sans", Arial, sans-serif' >-0.081</text><text x="85.5" y="548" font-size="12" fill="#222" stroke="#222" stroke-width="0.2" text-anchor="end" font-weight="normal" font-family='"Liberation Sans", Arial, sans-serif' >80.000</text><text x="664.5" y="548" font-size="12" fill="#222" stroke="#222" stroke-width="0.2" text-anchor="start" font-weight="normal" font-family='"Liberation Sans", Arial, sans-serif' >80.000</text><text x="85.5" y="578" font-size="12" fill="#222" stroke="#222" stroke-width="0.2" text-anchor="end" font-weight="normal" font-family='"Liberation Sans", Arial, sans-serif' >60.000</text><text x="664.5" y="578" font-size="12" fill="#222" stroke="#222" stroke-width="0.2" text-anchor="start" font-weight="normal" font-family='"Liberation Sans", Arial, sans-serif' >60.000</text><text x="85.5" y="608" font-size="12" fill="#222" stroke="#222" stroke-width="0.2" text-anchor="end" font-weight="normal" font-family='"Liberation Sans", Arial, sans-serif' >40.000</text><text x="664.5" y="608" font-size="12" fill="#222" stroke="#222" stroke-width="0.2" text-anchor="start" font-weight="normal" font-family='"Liberation Sans", Arial, sans-serif' >40.000</text>
<!-- extreme labels -->
<text x="167" y="73" font-size="12" fill="#e8485a" text-anchor="start" font-weight="bold" font-family='"Liberation Sans", Arial, sans-serif' >4.742</text>
<text x="357" y="53" font-size="12" fill="#e8485a" text-anchor="start" font-weight="bold" font-family='"Liberation Sans", Arial, sans-serif' >4.820</text>
<text x="272.5" y="379" font-size="12.5" fill="#3fb592" stroke="#3fb592" stroke-width="0.2" text-anchor="start" font-weight="normal" font-family='"Liberation Sans", Arial, sans-serif' >3.599</text>
<!-- title -->
<text x="90.5" y="12" font-size="12.4" fill="#111" stroke="#111" stroke-width="0.2" text-anchor="start" font-weight="normal" font-family='"Liberation Sans", "Noto Sans CJK SC", sans-serif' >美债10年收益率</text>
<text x="174.5" y="11.5" font-size="13" fill="#ff8000" text-anchor="start" font-weight="normal" font-family='"Liberation Sans", "Noto Sans CJK SC", sans-serif' >【周线】</text>
<circle cx="229.7" cy="8.6" r="3.9" fill="none" stroke="#ff8000" stroke-width="1"/>
<path d="M225.8 8.6 H233.6 M229.7 4.7 V12.5" stroke="#ff8000" stroke-width="0.9"/>
<!-- panel titles -->
<text x="92" y="405" font-size="12" fill="#111" stroke="#111" stroke-width="0.2" text-anchor="start" font-weight="normal" font-family='"Liberation Sans", Arial, sans-serif' textLength="84.5" lengthAdjust="spacingAndGlyphs">MACD(26,12,9)</text>
<text x="182" y="405" font-size="12" fill="#4a98f0" stroke="#4a98f0" stroke-width="0.2" text-anchor="start" font-weight="normal" font-family='"Liberation Sans", Arial, sans-serif' >DIFF:-0.005</text>
<text x="254" y="405" font-size="12" fill="#5cc886" stroke="#5cc886" stroke-width="0.2" text-anchor="start" font-weight="normal" font-family='"Liberation Sans", Arial, sans-serif' >DEA:-0.021</text>
<text x="325" y="405" font-size="12" fill="#4ab4e8" stroke="#4ab4e8" stroke-width="0.2" text-anchor="start" font-weight="normal" font-family='"Liberation Sans", Arial, sans-serif' >MACD:0.030</text>
<text x="91" y="537" font-size="12" fill="#111" stroke="#111" stroke-width="0.2" text-anchor="start" font-weight="normal" font-family='"Liberation Sans", Arial, sans-serif' textLength="74.5" lengthAdjust="spacingAndGlyphs">RSI(14,14,14)</text>
<text x="171" y="537" font-size="12" fill="#4a98f0" stroke="#4a98f0" stroke-width="0.2" text-anchor="start" font-weight="normal" font-family='"Liberation Sans", Arial, sans-serif' >RSI1:46.940</text>
<text x="245.5" y="537" font-size="12" fill="#5cc886" stroke="#5cc886" stroke-width="0.2" text-anchor="start" font-weight="normal" font-family='"Liberation Sans", Arial, sans-serif' >RSI2:46.940</text>
<text x="320.5" y="537" font-size="12" fill="#4ab4e8" stroke="#4ab4e8" stroke-width="0.2" text-anchor="start" font-weight="normal" font-family='"Liberation Sans", Arial, sans-serif' >RSI3:46.940</text>
<text x="395.5" y="537" font-size="12" fill="#aaaaaa" stroke="#aaaaaa" stroke-width="0.2" text-anchor="start" font-weight="normal" font-family='"Liberation Sans", Arial, sans-serif' >L20:20.000</text>
<text x="465" y="537" font-size="12" fill="#aaaaaa" stroke="#aaaaaa" stroke-width="0.2" text-anchor="start" font-weight="normal" font-family='"Liberation Sans", Arial, sans-serif' >L30:30.000</text>
<text x="533.5" y="537" font-size="12" fill="#aaaaaa" stroke="#aaaaaa" stroke-width="0.2" text-anchor="start" font-weight="normal" font-family='"Liberation Sans", Arial, sans-serif' >L50:50.00</text>
<!-- x labels -->
<text x="344.5" y="648" font-size="12" fill="#111" text-anchor="start" font-weight="bold" font-family='"Liberation Sans", Arial, sans-serif' >2025</text>
<text x="604.5" y="648" font-size="12" fill="#111" text-anchor="start" font-weight="bold" font-family='"Liberation Sans", Arial, sans-serif' >2026</text>
<!-- bottom-left -->
<text x="32.5" y="651.5" font-size="13" fill="#ff7a00" text-anchor="start" font-weight="bold" font-family='"Liberation Sans", "Noto Sans CJK SC", sans-serif' >周线</text>
<path d="M67.5 642 L72 650 L63 650 Z" fill="#ff7a00"/>
<!-- sun icon -->
<g shape-rendering="crispEdges">
<g fill="#000">
<rect x="26" y="526" width="4" height="1"/><rect x="26" y="533" width="4" height="1"/>
<rect x="24" y="528" width="1" height="4"/><rect x="31" y="528" width="1" height="4"/>
<rect x="25" y="527" width="1" height="1"/><rect x="30" y="527" width="1" height="1"/>
<rect x="25" y="532" width="1" height="1"/><rect x="30" y="532" width="1" height="1"/>
</g>
<g fill="#f00">
<rect x="27" y="528" width="2" height="4"/><rect x="26" y="529" width="4" height="2"/>
<rect x="27" y="523" width="1" height="2"/><rect x="27" y="535" width="1" height="2"/>
<rect x="21" y="529" width="2" height="1"/><rect x="33" y="529" width="2" height="1"/>
<rect x="22" y="524" width="1" height="1"/><rect x="23" y="525" width="1" height="1"/>
<rect x="33" y="524" width="1" height="1"/><rect x="32" y="525" width="1" height="1"/>
<rect x="23" y="534" width="1" height="1"/><rect x="22" y="535" width="1" height="1"/>
<rect x="32" y="534" width="1" height="1"/><rect x="33" y="535" width="1" height="1"/>
</g>
</g>
</svg>

<div style="position:absolute;left:0;top:0;width:18px;font:13px/14px 'Noto Sans CJK SC','WenQuanYi Zen Hei',sans-serif;color:#222;text-align:center">
<div style="position:absolute;top:2px;left:0;width:18px">分<br>时<br>图</div>
<div style="position:absolute;top:53px;left:0;width:18px;color:#fff;font:11px/12px 'Liberation Serif',serif">K</div>
<div style="position:absolute;top:65px;left:0;width:18px;color:#fff">线<br>图</div>
<div style="position:absolute;top:100px;left:0;width:18px">闪<br>电<br>图</div>
<div style="position:absolute;top:153px;left:0;width:18px">合<br>约<br>资<br>料</div>
</div>


<svg width="729" height="14" viewBox="0 0 729 14" style="position:absolute;left:0;top:0" shape-rendering="crispEdges">
<g fill="#0a70c9">
<rect x="598" y="0" width="1" height="12"/><rect x="611" y="0" width="1" height="12"/><rect x="598" y="11" width="14" height="1"/>
<rect x="600" y="4" width="3" height="2"/><rect x="604" y="4" width="2" height="2"/><rect x="607" y="4" width="3" height="2"/>
<rect x="604" y="0" width="2" height="3"/><rect x="604" y="7" width="2" height="3"/>
<rect x="614" y="0" width="1" height="12"/><rect x="627" y="0" width="1" height="12"/><rect x="614" y="11" width="14" height="1"/>
<rect x="617" y="0" width="1" height="10"/><rect x="616" y="1" width="3" height="1"/><rect x="616" y="9" width="3" height="1"/>
<rect x="616" y="8" width="10" height="1"/><rect x="624" y="7" width="1" height="3"/>
<rect x="620" y="1" width="1" height="6"/>
<path d="M621.5 4 L624.5 1.5 L624.5 6.5 Z" shape-rendering="auto"/>
<rect x="630" y="0" width="14" height="12"/>
<rect x="646" y="0" width="1" height="12"/><rect x="659" y="0" width="1" height="12"/><rect x="646" y="11" width="14" height="1"/>
<rect x="648" y="1" width="1" height="9"/><rect x="651" y="1" width="1" height="9"/><rect x="648" y="1" width="4" height="1"/><rect x="648" y="9" width="4" height="1"/>
<rect x="651" y="4" width="4" height="2"/>
<path d="M654.5 1.5 L658.5 5 L654.5 8.5 Z" shape-rendering="auto"/>
</g>
<g fill="#fff">
<rect x="633" y="0" width="1" height="10"/><rect x="632" y="1" width="3" height="1"/><rect x="632" y="9" width="3" height="1"/>
<rect x="632" y="8" width="10" height="1"/><rect x="640" y="7" width="1" height="3"/>
<path d="M636 1.5 L641.5 4.8 L636 8 Z" fill="#d6e7f8" shape-rendering="auto"/>
</g>
</svg>

</body></html>
